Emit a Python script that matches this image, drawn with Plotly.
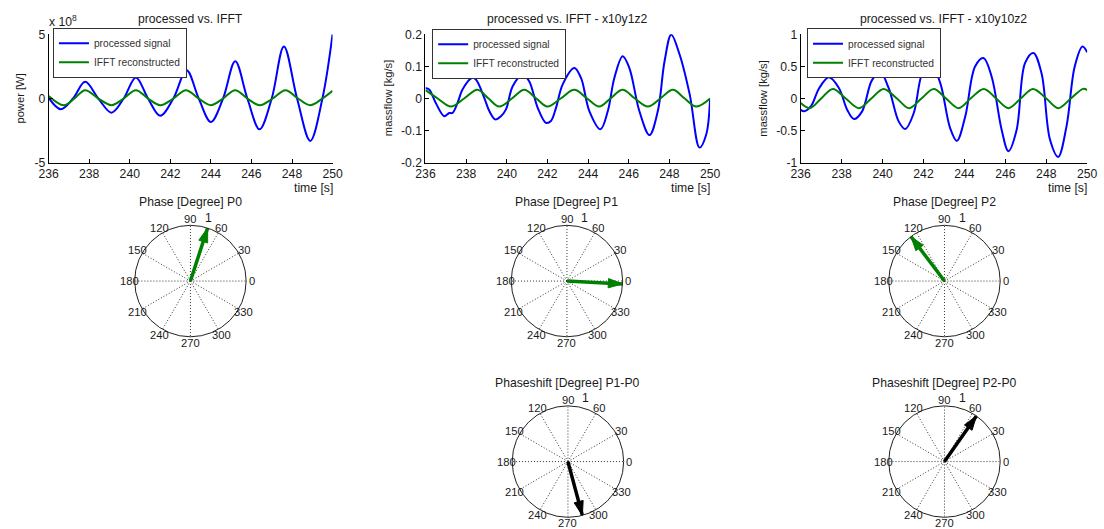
import math
import plotly.graph_objects as go

# ---------------- data ----------------
x_ticks = [236, 238, 240, 242, 244, 246, 248, 250]

# Plot 1: power (units of 1e8 W)
t_p0_sig = [236.0, 236.6, 237.2, 237.8, 238.45, 239.1, 239.7, 240.3, 240.9, 241.5, 242.15, 242.8,
            243.4, 244.0, 244.6, 245.2, 245.8, 246.4, 247.0, 247.6, 248.25, 248.9, 249.5, 250.0]
p0_sig = [0.05, -0.83, 0.0, 1.3, 0.0, -1.1, 0.0, 1.64, 0.0, -1.35, 0.0, 2.2,
          0.0, -1.82, 0.0, 2.9, 0.0, -2.4, 0.0, 4.06, 0.0, -3.3, 0.0, 5.0]
t_p0_ifft = [236.0, 236.75, 237.27, 237.8, 238.45, 239.1, 239.7, 240.3, 240.9, 241.5, 242.15, 242.77,
             243.4, 244.0, 244.6, 245.2, 245.8, 246.4, 247.05, 247.68, 248.3, 248.9, 249.5, 250.0]
p0_ifft = [0.2, -0.52, 0.0, 0.65, 0.0, -0.52, 0.0, 0.65, 0.0, -0.52, 0.0, 0.65,
           0.0, -0.52, 0.0, 0.65, 0.0, -0.52, 0.0, 0.65, 0.0, -0.52, 0.0, 0.6]

# Plot 2: massflow x10y1z2 [kg/s]
t_p1_sig = [236.0, 236.18, 236.5, 236.92, 237.17, 237.33, 237.58, 237.82, 238.28, 238.48, 238.89,
            239.14, 239.43, 239.71, 239.96, 240.29, 240.78, 241.1, 241.52, 241.93, 242.17, 242.42,
            242.75, 243.32, 243.65, 244.06, 244.61, 244.97, 245.29, 245.7, 246.03, 246.52, 247.02,
            247.43, 247.76, 248.09, 248.5, 249.0, 249.48, 249.81, 250.0]
p1_sig = [0.033, 0.028, -0.013, -0.055, -0.045, -0.045, -0.013, 0.028, 0.064, 0.059, 0.002,
          -0.039, -0.065, -0.055, -0.034, 0.038, 0.075, 0.054, -0.029, -0.076, -0.07, -0.029,
          0.044, 0.095, 0.064, -0.039, -0.096, -0.039, 0.064, 0.132, 0.095, -0.039, -0.114,
          -0.039, 0.116, 0.199, 0.137, 0.012, -0.153, -0.112, 0.0]
t_p1_ifft = [236.0, 236.6, 237.25, 237.9, 238.56, 239.1, 239.63, 240.25, 240.86, 241.45, 242.0, 242.65,
             243.32, 243.95, 244.55, 245.1, 245.7, 246.3, 246.94, 247.55, 248.17, 248.75, 249.32, 250.0]
p1_ifft = [0.026, 0.0, -0.025, 0.0, 0.027, 0.0, -0.025, 0.0, 0.027, 0.0, -0.025, 0.0,
           0.027, 0.0, -0.025, 0.0, 0.027, 0.0, -0.025, 0.0, 0.027, 0.0, -0.025, 0.0]

# Plot 3: massflow x10y10z2 [kg/s]
t_p2_sig = [236.0, 236.16, 236.5, 236.9, 237.38, 237.87, 238.27, 238.6, 239.0, 239.49, 239.9, 240.3,
            240.79, 241.11, 241.52, 242.0, 242.41, 242.82, 243.3, 243.63, 244.04, 244.52, 244.93,
            245.33, 245.82, 246.15, 246.55, 246.96, 247.37, 247.77, 248.18, 248.58, 248.99, 249.39,
            249.77, 250.0]
p2_sig = [-0.175, -0.2, -0.12, 0.16, 0.33, 0.16, -0.175, -0.32, -0.2, 0.29, 0.4, 0.16,
          -0.36, -0.475, -0.23, 0.44, 0.51, 0.24, -0.46, -0.66, -0.28, 0.5, 0.63,
          0.34, -0.49, -0.82, -0.49, 0.55, 0.71, 0.39, -0.64, -0.91, -0.43, 0.5,
          0.81, 0.72]
t_p2_ifft = [236.0, 236.45, 237.0, 237.57, 238.2, 238.85, 239.45, 240.05, 240.7, 241.3, 241.9, 242.5,
             243.1, 243.72, 244.3, 244.95, 245.55, 246.15, 246.75, 247.35, 248.0, 248.58, 249.2,
             249.8, 250.0]
p2_ifft = [-0.07, -0.15, 0.0, 0.15, 0.0, -0.15, 0.0, 0.15, 0.0, -0.15, 0.0, 0.15,
           0.0, -0.15, 0.0, 0.15, 0.0, -0.15, 0.0, 0.15, 0.0, -0.15, 0.0,
           0.15, 0.13]

# Phases [degree] and normalised magnitudes
phase_names = ["P0", "P1", "P2"]
phase_deg = [72, -3, 127]
phase_mag = [1.0, 1.0, 1.0]
shift_names = ["P1-P0", "P2-P0"]
shift_deg = [(phase_deg[1] - phase_deg[0]) % 360, (phase_deg[2] - phase_deg[0]) % 360]
shift_mag = [1.0, 1.0]

angle_ticks = list(range(0, 360, 30))
radial_tick_label = "1"

# ---------------- layout helpers ----------------
W, H = 1104, 529
OFF = 8.0                      # page offset seen in the snapshot
SX, SY = W / (W + 16.0), H / (H + 16.0)   # snapshot scale seen in the snapshot
FONT = "Liberation Sans, Arial, sans-serif"
TXT = "#1a1a1a"
BLUE = "#0000FF"
GREEN = "#008000"
FS_TICK, FS_TITLE, FS_LAB, FS_LEG = 12.2, 12.2, 11.2, 10.2


def fxp(x):        # target picture x -> figure px
    return x / SX - OFF


def fyp(y):
    return y / SY - OFF


def px(x):
    return fxp(x) / W


def py(y):
    return 1 - fyp(y) / H


fig = go.Figure()

top_x = [(46.7, 331.7), (425.0, 710.7), (801.7, 1089.3)]
y_top, y_bot = 35.0, 163.0
series = [
    (t_p0_sig, p0_sig, t_p0_ifft, p0_ifft, [-5, 0, 5], ["-5", "0", "5"], [-5, 5], "power [W]"),
    (t_p1_sig, p1_sig, t_p1_ifft, p1_ifft, [-0.2, -0.1, 0, 0.1, 0.2], ["-0.2", "-0.1", "0", "0.1", "0.2"], [-0.2, 0.2], "massflow [kg/s]"),
    (t_p2_sig, p2_sig, t_p2_ifft, p2_ifft, [-1, -0.5, 0, 0.5, 1], ["-1", "-0.5", "0", "0.5", "1"], [-1, 1], "massflow [kg/s]"),
]
titles = ["processed vs. IFFT", "processed vs. IFFT - x10y1z2", "processed vs. IFFT - x10y10z2"]
legend_pos = [(51, 28.5), (431.7, 29.5), (808, 29)]
ylabel_x = [17, 387, 763]

annotations = []
for i, (ts, s, ti, si, yt, ytt, yr, ylab) in enumerate(series):
    k = "" if i == 0 else str(i + 1)
    leg = "legend" if i == 0 else "legend" + str(i + 1)
    fig.add_trace(go.Scatter(x=ts, y=s, mode="lines", name="processed signal",
                             line=dict(color=BLUE, width=2, shape="spline", smoothing=1.0),
                             xaxis="x" + k, yaxis="y" + k, legend=leg))
    fig.add_trace(go.Scatter(x=ti, y=si, mode="lines", name="IFFT reconstructed",
                             line=dict(color=GREEN, width=2, shape="spline", smoothing=1.0),
                             xaxis="x" + k, yaxis="y" + k, legend=leg))
    x0, x1 = top_x[i]
    fig.layout["xaxis" + k] = dict(domain=[px(x0), px(x1)], anchor="y" + k, range=[236, 250],
                                   tickvals=x_ticks, ticks="inside", ticklen=4, tickcolor="#000",
                                   showline=True, linecolor="#000", linewidth=1, mirror=False,
                                   showgrid=False, zeroline=False,
                                   tickfont=dict(family=FONT, size=FS_TICK, color=TXT))
    fig.layout["yaxis" + k] = dict(domain=[py(y_bot), py(y_top)], anchor="x" + k, range=yr,
                                   tickvals=yt, ticktext=ytt, ticks="inside", ticklen=4, tickcolor="#000",
                                   showline=True, linecolor="#000", linewidth=1, mirror=False,
                                   showgrid=False, zeroline=False,
                                   tickfont=dict(family=FONT, size=FS_TICK, color=TXT))
    lx, ly = legend_pos[i]
    fig.layout[leg] = dict(x=px(lx), y=py(ly), xanchor="left", yanchor="top",
                           bgcolor="white", bordercolor="#333", borderwidth=1,
                           font=dict(family=FONT, size=FS_LEG, color="#333"),
                           itemwidth=30, tracegroupgap=0, traceorder="normal")
    annotations.append(dict(text=titles[i], x=px((x0 + x1) / 2), y=py(20), xref="paper", yref="paper",
                            showarrow=False, xanchor="center", yanchor="middle",
                            font=dict(family=FONT, size=FS_TITLE, color=TXT)))
    annotations.append(dict(text=ylab, x=px(ylabel_x[i]), y=py(99), xref="paper", yref="paper",
                            showarrow=False, textangle=-90, xanchor="center", yanchor="middle",
                            font=dict(family=FONT, size=FS_LAB, color=TXT)))
    annotations.append(dict(text="time [s]", x=px(x1 + 2), y=py(188), xref="paper", yref="paper",
                            showarrow=False, xanchor="right", yanchor="middle",
                            font=dict(family=FONT, size=FS_TITLE, color=TXT)))

annotations.append(dict(text="x 10<sup>8</sup>", x=px(45), y=py(22), xref="paper", yref="paper",
                        showarrow=False, xanchor="left", yanchor="middle",
                        font=dict(family=FONT, size=FS_TITLE, color=TXT)))

# ---------------- polar (compass) plots ----------------
R = 56                           # ring radius in picture px
R_fig = R / ((SX + SY) / 2)      # ring radius in figure px
polars = [
    (189, 281, phase_deg[0], phase_mag[0], GREEN, "Phase [Degree] " + phase_names[0], 202),
    (567, 281, phase_deg[1], phase_mag[1], GREEN, "Phase [Degree] " + phase_names[1], 202),
    (946, 281, phase_deg[2], phase_mag[2], GREEN, "Phase [Degree] " + phase_names[2], 202),
    (568, 461, shift_deg[0], shift_mag[0], "#000000", "Phaseshift [Degree] " + shift_names[0], 383),
    (946, 461, shift_deg[1], shift_mag[1], "#000000", "Phaseshift [Degree] " + shift_names[1], 383),
]
for j, (cx, cy, ang, mag, col, ttl, ty) in enumerate(polars):
    pk = "polar" if j == 0 else "polar" + str(j + 1)
    fcx, fcy = fxp(cx), fyp(cy)
    fig.layout[pk] = dict(
        domain=dict(x=[(fcx - R_fig) / W, (fcx + R_fig) / W],
                    y=[1 - (fcy + R_fig) / H, 1 - (fcy - R_fig) / H]),
        bgcolor="white",
        angularaxis=dict(rotation=0, direction="counterclockwise", tickmode="array",
                         tickvals=angle_ticks, showticklabels=False,
                         ticks="", showline=True, linecolor="#222", linewidth=1,
                         showgrid=True, gridcolor="#333", griddash="1px,2px", gridwidth=1),
        radialaxis=dict(range=[0, 1], visible=False),
    )
    fig.add_trace(go.Scatterpolar(r=[0, mag], theta=[0, ang], mode="lines",
                                  line=dict(color=col, width=3.5),
                                  subplot=pk, showlegend=False, hoverinfo="skip"))
    fig.add_trace(go.Scatterpolar(r=[mag], theta=[ang], mode="markers",
                                  marker=dict(symbol="arrow", size=15, color=col, opacity=1,
                                              angle=90 - ang, line=dict(width=1, color=col)),
                                  subplot=pk, showlegend=False, hoverinfo="skip"))
    annotations.append(dict(text=ttl, x=px(cx), y=py(ty), xref="paper", yref="paper",
                            showarrow=False, xanchor="center", yanchor="middle",
                            font=dict(family=FONT, size=FS_TITLE, color=TXT)))
    annotations.append(dict(text=radial_tick_label, x=px(cx + 18), y=py(cy - 63), xref="paper", yref="paper",
                            showarrow=False, xanchor="center", yanchor="middle",
                            font=dict(family=FONT, size=FS_TITLE, color=TXT)))
    for a in angle_ticks:
        lx = cx + 1.1 * R * math.cos(math.radians(a))
        ly = cy - 1.1 * R * math.sin(math.radians(a))
        annotations.append(dict(text=str(a), x=px(lx), y=py(ly), xref="paper", yref="paper",
                                showarrow=False, xanchor="center", yanchor="middle",
                                font=dict(family=FONT, size=FS_LAB, color=TXT)))

fig.update_layout(width=W, height=H, autosize=False, margin=dict(l=0, r=0, t=0, b=0),
                  paper_bgcolor="white", plot_bgcolor="white", annotations=annotations,
                  font=dict(family=FONT, color=TXT))

fig.write_html("out.html")
